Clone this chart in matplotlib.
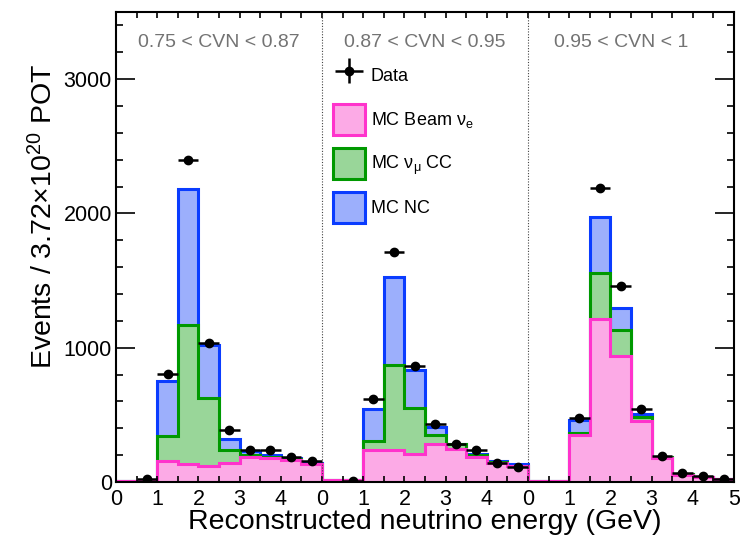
import numpy as np
import matplotlib
matplotlib.use("Agg")
import matplotlib.pyplot as plt
import matplotlib.patches as mpatches
import matplotlib.transforms as mtransforms
from matplotlib.legend_handler import HandlerErrorbar

plt.rcParams['font.family'] = ['Liberation Sans', 'DejaVu Sans']
plt.rcParams['mathtext.fontset'] = 'custom'
plt.rcParams['mathtext.rm'] = 'Liberation Sans'
plt.rcParams['mathtext.it'] = 'Liberation Sans:italic'
plt.rcParams['mathtext.bf'] = 'Liberation Sans:bold'

# three CVN bins of 0-5 GeV laid side by side, 0.5 GeV bins
bin_edges = np.arange(0, 15.01, 0.5)
bin_centers = bin_edges[:-1] + 0.25

beam_nue = np.array([10, 10, 158, 133, 120, 143, 184, 179, 163, 133,
                     12, 12, 240, 235, 209, 286, 247, 184, 138, 117,
                     10, 10, 349, 1212, 941, 457, 176, 56, 36, 23])
numu_cc = np.array([0, 0, 184, 1033, 502, 92, 16, 6, 5, 3,
                    0, 0, 64, 637, 345, 64, 34, 16, 12, 5,
                    0, 0, 18, 342, 192, 28, 8, 4, 2, 2])
nc = np.array([0, 0, 408, 1018, 398, 84, 30, 19, 8, 9,
               0, 0, 242, 656, 280, 63, 5, 9, 8, 11,
               0, 0, 92, 420, 165, 25, 2, 2, 0, 1])
data = np.array([np.nan, 25, 804, 2395, 1038, 388, 240, 240, 189, 158,
                 np.nan, 4, 617, 1714, 865, 434, 281, 235, 140, 115,
                 np.nan, np.nan, 477, 2191, 1459, 541, 196, 69, 43, 23])

xtick_labels = ['0', '1', '2', '3', '4', '0', '1', '2', '3', '4',
                '0', '1', '2', '3', '4', '5']
panel_labels = ['0.75 < CVN < 0.87', '0.87 < CVN < 0.95', '0.95 < CVN < 1']
panel_label_x = [2.5, 7.5, 12.25]

pink_fill, pink_edge = '#fcaae6', '#ff33cc'
green_fill, green_edge = '#99d699', '#009900'
blue_fill, blue_edge = '#9caffc', '#0a3cff'

fig = plt.figure(figsize=(7.46, 5.36), dpi=100)
ax = fig.add_axes([0.1555, 0.1007, 0.8284, 0.877])

stack1 = beam_nue
stack2 = stack1 + numu_cc
stack3 = stack2 + nc
for vals, fc, ec in [(stack3, blue_fill, blue_edge),
                     (stack2, green_fill, green_edge),
                     (stack1, pink_fill, pink_edge)]:
    ax.stairs(vals, bin_edges, fill=True, color=fc, lw=0)
    ax.stairs(vals, bin_edges, baseline=0, color=ec, lw=2.2)

m = ~np.isnan(data)
dat = ax.errorbar(bin_centers[m], data[m], xerr=0.25, yerr=np.zeros(m.sum()),
                  fmt='o', color='k', ms=6, elinewidth=1.8, capsize=0, zorder=5)

for xb in [5, 10]:
    ax.axvline(xb, color='#444444', ls=(0, (1, 1.5)), lw=0.8)

trans = mtransforms.blended_transform_factory(ax.transData, ax.transAxes)
for xp, lbl in zip(panel_label_x, panel_labels):
    ax.text(xp, 0.935, lbl, transform=trans, ha='center', va='center',
            fontsize=14, color='#737373')

ax.set_xlim(0, 15)
ax.set_ylim(0, 3500)
ax.set_xticks(range(16))
ax.set_xticklabels(xtick_labels)
ax.set_xticks(np.arange(0.5, 15, 1), minor=True)
ax.set_yticks([0, 1000, 2000, 3000])
ax.set_yticks(np.arange(0, 3501, 200), minor=True)
ax.tick_params(which='both', direction='in', top=True, right=True, width=1.2)
ax.tick_params(axis='x', which='both', length=4.5, pad=5, labelsize=15.5)
ax.tick_params(axis='y', which='major', length=13.5, pad=3, labelsize=15.5)
ax.tick_params(axis='y', which='minor', length=5)
for s in ax.spines.values():
    s.set_linewidth(1.5)

ax.set_xlabel('Reconstructed neutrino energy (GeV)', fontsize=20.5, va='center')
ax.xaxis.set_label_coords(0.5, -0.086)
ax.set_ylabel('Events / 3.72\u00d710$^{20}$ POT', fontsize=20.5, va='center')
ax.yaxis.set_label_coords(-0.117, 0.565)

handles = [dat,
           mpatches.Patch(facecolor=pink_fill, edgecolor=pink_edge, lw=2.2),
           mpatches.Patch(facecolor=green_fill, edgecolor=green_edge, lw=2.2),
           mpatches.Patch(facecolor=blue_fill, edgecolor=blue_edge, lw=2.2)]
labels = ['Data', 'MC Beam \u03bd$_{\\mathrm{e}}$', 'MC \u03bd$_{\\mathrm{\u03bc}}$ CC', 'MC NC']
ax.legend(handles, labels, loc='upper left', bbox_to_anchor=(0.351, 0.898),
          frameon=False, fontsize=13, borderpad=0, borderaxespad=0,
          handlelength=1.75, handleheight=2.3, handletextpad=0.35,
          labelspacing=0.7, numpoints=1,
          handler_map={dat: HandlerErrorbar(xerr_size=0.78, yerr_size=0.7)})

fig.savefig('out.png', dpi=100)
